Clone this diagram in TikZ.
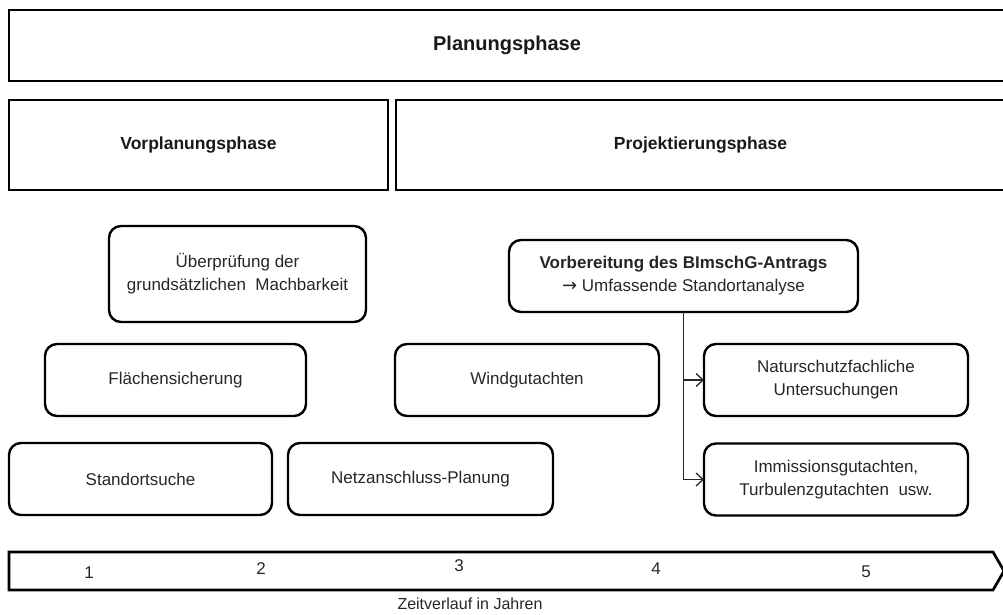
\documentclass[tikz,border=0pt]{standalone}
\usepackage{fontspec}
\setmainfont{Liberation Sans}
\usetikzlibrary{arrows.meta}
\begin{document}
\begin{tikzpicture}[x=1pt,y=-1pt,
  phasebox/.style={draw=black,line width=2.7pt,inner sep=0pt,outer sep=0pt,
    font=\fontsize{17.5}{21}\selectfont\bfseries,text=black!90},
  taskbox/.style={draw=black,line width=2.4pt,rounded corners=12pt,inner sep=0pt,
    outer sep=0pt,align=center,font=\fontsize{17}{23}\selectfont,text=black!85},
  link/.style={draw=black!85,line width=1.3pt},
  linkarrow/.style={link,-{Straight Barb[length=7pt,width=13pt,line width=1.3pt]}},
  yearlabel/.style={font=\fontsize{17}{20}\selectfont,text=black!85,inner sep=0pt}]
\useasboundingbox (0,0) rectangle (1003,615);

% phase headers
\node[phasebox,minimum width=996pt,minimum height=71pt,
  font=\fontsize{20}{24}\selectfont\bfseries] (plan) at (507,45.5) {Planungsphase};
\node[phasebox,minimum width=379pt,minimum height=90pt] (vor) at (198.5,145) {Vorplanungsphase};
\node[phasebox,minimum width=609pt,minimum height=90pt] (proj) at (700.5,145) {Projektierungsphase};

% tasks of the preliminary planning
\node[taskbox,minimum width=257pt,minimum height=96pt] (mach) at (237.5,274)
  {Überprüfung der\\grundsätzlichen\ \ Machbarkeit};
\node[taskbox,minimum width=261pt,minimum height=72pt] (flae) at (175.5,380) {Flächensicherung};
\node[taskbox,minimum width=263pt,minimum height=72pt] (stand) at (140.5,479) {Standortsuche};
\node[taskbox,minimum width=265pt,minimum height=72pt] (netz) at (420.5,479) {Netzanschluss-Planung};

% tasks of the project planning
\node[taskbox,minimum width=349pt,minimum height=72pt] (bim) at (683.5,276)
  {\textbf{Vorbereitung des BImschG-Antrags}\\{\fontspec{DejaVu Sans}\fontsize{18}{23}\selectfont →}\ Umfassende Standortanalyse};
\node[taskbox,minimum width=264pt,minimum height=72pt] (wind) at (527,380) {Windgutachten};
\node[taskbox,minimum width=264pt,minimum height=72pt] (natur) at (836,380)
  {Naturschutzfachliche\\Untersuchungen};
\node[taskbox,minimum width=264pt,minimum height=72pt] (imm) at (836,479.5)
  {Immissionsgutachten,\\Turbulenzgutachten\ \ usw.};

% branches from the site analysis
\draw[link] (bim.south) -- (bim.south |- imm.west);
\draw[linkarrow] (bim.south |- natur.west) -- (natur.west);
\draw[linkarrow] (bim.south |- imm.west) -- (imm.west);

% time axis
\draw[line width=2.7pt,line join=miter] (9,552) -- (993,552) -- (1004,571)
  -- (993,590) -- (9,590) -- cycle;
\node[yearlabel] (y1) at (89,573) {1};
\node[yearlabel] (y2) at (261,569) {2};
\node[yearlabel] (y3) at (459,566) {3};
\node[yearlabel] (y4) at (656,569) {4};
\node[yearlabel] (y5) at (866,572) {5};
\node[font=\fontsize{16}{19}\selectfont,text=black!85,inner sep=0pt] (axis) at (470,604)
  {Zeitverlauf in Jahren};
\end{tikzpicture}
\end{document}
